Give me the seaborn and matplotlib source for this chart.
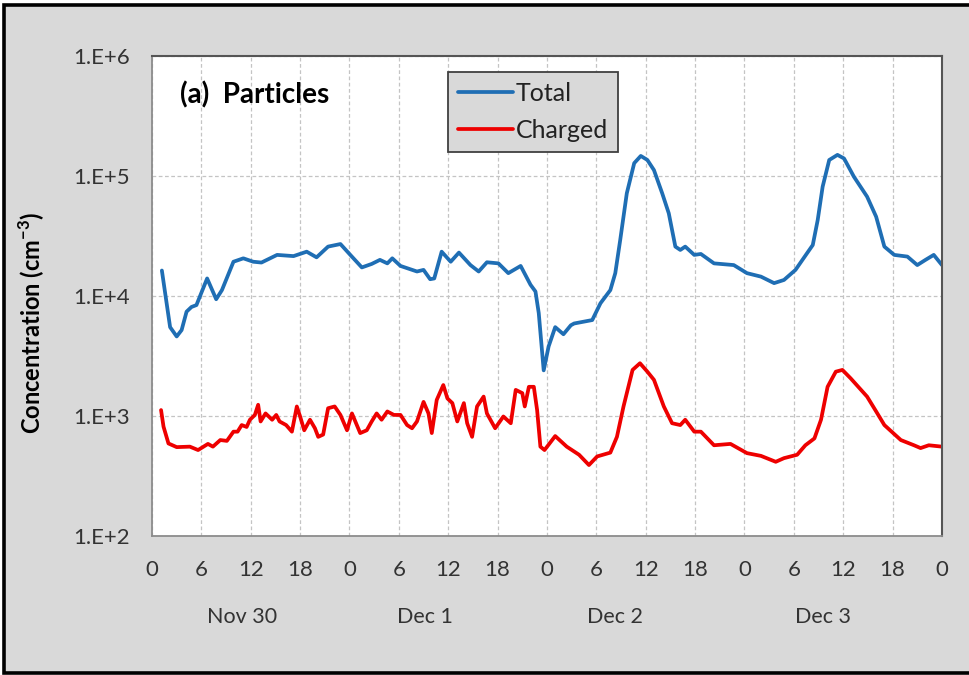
import matplotlib
matplotlib.use("Agg")
import matplotlib.pyplot as plt
from matplotlib.patches import Rectangle
from matplotlib.ticker import FixedLocator, FixedFormatter, NullLocator
import numpy as np
import pandas as pd
import seaborn as sns

# ---- data: hours since Nov 30 00:00, concentrations in cm^-3 ----
total_hours = [1.2, 2.2, 3.0, 3.6, 4.2, 4.8, 5.4, 6.7, 7.8, 8.5, 9.9, 11.1, 12.3, 13.3,
               15.2, 17.2, 18.8, 20.0, 21.4, 22.9, 24.1, 25.5, 26.7, 27.7, 28.6, 29.2,
               30.2, 32.2, 33.0, 33.8, 34.3, 35.2, 36.3, 37.3, 38.7, 39.7, 40.7, 42.1,
               43.3, 44.8, 46.0, 46.6, 47.0, 47.6, 48.2, 49.0, 50.0, 50.9, 51.3, 53.5,
               54.5, 55.7, 56.3, 56.9, 57.7, 58.6, 59.4, 60.2, 61.0, 62.0, 62.8, 63.6,
               64.2, 64.8, 65.9, 66.7, 68.3, 70.7, 72.3, 74.0, 75.6, 76.8, 78.2, 79.6,
               80.3, 80.9, 81.5, 82.3, 83.3, 84.1, 85.3, 86.9, 88.0, 89.0, 90.2, 91.8,
               93.0, 94.0, 95.0, 96.0]
total_conc = [16300, 5500, 4600, 5200, 7400, 8100, 8400, 14000, 9400, 11200, 19300, 20600,
              19300, 19000, 22000, 21500, 23400, 21000, 25800, 27100, 22000, 17300, 18500,
              20000, 18700, 20600, 17800, 16000, 16500, 13800, 14000, 23400, 19300, 23000,
              18100, 16000, 19100, 18700, 15500, 17800, 12400, 10900, 7200, 2400, 3800,
              5500, 4800, 5700, 5900, 6300, 8700, 11200, 15500, 29300, 71800, 128000,
              147000, 136000, 112000, 71800, 48900, 25800, 24200, 25800, 22000, 22400,
              18700, 18100, 15500, 14500, 12800, 13600, 16500, 22700, 26600, 43000, 81500,
              136000, 150000, 140000, 98600, 67300, 45800, 25800, 22000, 21300, 18100,
              20000, 22000, 18100]

charged_hours = [1.1, 1.4, 2.0, 3.0, 4.6, 5.6, 6.8, 7.4, 8.3, 9.1, 9.9, 10.4, 10.9, 11.5,
                 11.9, 12.5, 12.9, 13.2, 13.8, 14.6, 15.1, 15.5, 16.3, 17.0, 17.6, 18.0,
                 18.5, 19.2, 19.8, 20.2, 20.8, 21.4, 22.2, 22.9, 23.7, 24.3, 25.3, 26.1,
                 26.7, 27.3, 27.9, 28.6, 29.4, 30.2, 31.0, 31.6, 32.2, 33.0, 33.6, 34.0,
                 34.6, 35.4, 35.9, 36.5, 37.1, 37.9, 38.3, 38.9, 39.5, 40.3, 40.7, 41.7,
                 42.7, 43.6, 44.2, 45.0, 45.3, 45.8, 46.4, 46.8, 47.2, 47.7, 49.0, 50.4,
                 51.9, 53.1, 54.1, 55.7, 56.5, 57.3, 58.4, 59.3, 60.2, 61.0, 62.2, 63.2,
                 64.2, 64.8, 65.9, 66.7, 68.3, 70.3, 72.3, 74.0, 75.8, 76.8, 78.4, 79.4,
                 80.5, 81.3, 82.1, 83.1, 83.9, 84.9, 86.9, 87.9, 89.0, 91.0, 92.6, 93.4,
                 94.4, 96.0]
charged_conc = [1120, 815, 590, 550, 555, 520, 585, 555, 630, 620, 740, 740, 840, 810,
                930, 1020, 1240, 900, 1050, 930, 1020, 900, 840, 740, 1200, 990,
                760, 930, 790, 670, 700, 1160, 1200, 1020, 760, 1050, 720, 760,
                900, 1050, 930, 1090, 1020, 1020, 840, 790, 900, 1310, 1050, 720,
                1360, 1810, 1400, 1280, 900, 1280, 870, 670, 1200, 1450, 1050, 790,
                990, 870, 1650, 1550, 1200, 1750, 1750, 1120, 555, 520, 680, 555,
                475, 390, 460, 495, 670, 1200, 2420, 2750, 2340, 2000, 1200, 870,
                840, 930, 740, 740, 570, 585, 490, 465, 415, 445, 475, 570,
                650, 930, 1750, 2340, 2420, 2060, 1450, 1120, 840, 630, 570, 540,
                570, 555]

series_names = ["Total", "Charged"]
series_colors = ["#1f6eb4", "#ee0000"]

hour_ticks = list(range(0, 97, 6))
hour_labels = [str(h % 24) for h in hour_ticks]
decade_ticks = [1e2, 1e3, 1e4, 1e5, 1e6]
decade_labels = ["1.E+2", "1.E+3", "1.E+4", "1.E+5", "1.E+6"]
day_names = ["Nov 30", "Dec 1", "Dec 2", "Dec 3"]
day_label_hours = [10.9, 33.2, 56.2, 81.5]

df = pd.concat([
    pd.DataFrame({"hour": total_hours, "conc": total_conc, "series": series_names[0]}),
    pd.DataFrame({"hour": charged_hours, "conc": charged_conc, "series": series_names[1]}),
], ignore_index=True)

# ---- styling ----
sns.set_theme(style="white")
plt.rcParams["font.family"] = ["Lato", "DejaVu Sans"]
plt.rcParams["mathtext.fontset"] = "custom"
plt.rcParams["mathtext.rm"] = "Lato"
plt.rcParams["mathtext.bf"] = "Lato:bold"

bg = "#d9d9d9"
fig = plt.figure(figsize=(9.7, 6.75), dpi=100, facecolor="white")
fig.patches.append(Rectangle((0.004, 0.003), 1.02, 0.989, transform=fig.transFigure,
                             facecolor=bg, edgecolor="black", linewidth=2.6, zorder=-10))
ax = fig.add_axes([0.1567, 0.206, 0.8144, 0.711])
ax.set_facecolor("white")

sns.lineplot(data=df, x="hour", y="conc", hue="series", hue_order=series_names,
             palette=series_colors, linewidth=2.7, sort=False, estimator=None,
             ax=ax, legend=False)

ax.set_yscale("log")
ax.set_xlim(0, 96)
ax.set_ylim(1e2, 1e6)
ax.xaxis.set_major_locator(FixedLocator(hour_ticks))
ax.xaxis.set_major_formatter(FixedFormatter(hour_labels))
ax.yaxis.set_major_locator(FixedLocator(decade_ticks))
ax.yaxis.set_major_formatter(FixedFormatter(decade_labels))
ax.yaxis.set_minor_locator(NullLocator())

ax.grid(True, which="major", color="#c4c4c4", linestyle=(0, (3, 2)), linewidth=0.9)
ax.set_axisbelow(True)

for side in ("left", "bottom"):
    ax.spines[side].set_color("#8c8c8c")
    ax.spines[side].set_linewidth(1.3)
for side in ("top", "right"):
    ax.spines[side].set_color("#555555")
    ax.spines[side].set_linewidth(1.5)

ax.tick_params(axis="both", which="major", direction="out", length=7, width=1.2,
               color="#8c8c8c", labelcolor="#333333", labelsize=16)
ax.tick_params(axis="x", pad=10)
ax.tick_params(axis="y", pad=9)

ax.set_xlabel("")
ax.set_ylabel("Concentration (cm$^{\\mathbf{-3}}$)", fontsize=17, fontweight="bold",
              color="black")
ax.yaxis.set_label_coords(-0.133, 0.444)

for name, hr in zip(day_names, day_label_hours):
    ax.text(hr, -0.169, name, transform=ax.get_xaxis_transform(), ha="center",
            va="center", fontsize=15.5, color="#333333")

ax.text(0.035, 0.919, "(a)  Particles", transform=ax.transAxes, ha="left", va="center",
        fontsize=20, fontweight="bold", color="black")

handles = [plt.Line2D([], [], color=c, linewidth=2.7) for c in series_colors]
leg = ax.legend(handles, series_names, loc="upper left", bbox_to_anchor=(0.375, 0.967),
                frameon=True, fancybox=False, facecolor=bg, edgecolor="#404040",
                fontsize=18, handlelength=2.2, handletextpad=0.1, borderpad=0.4,
                labelspacing=0.55, borderaxespad=0)
leg.get_frame().set_linewidth(1.3)
leg.get_frame().set_alpha(1)
for t in leg.get_texts():
    t.set_color("#222222")

fig.savefig("out.png", dpi=100, facecolor=fig.get_facecolor())
